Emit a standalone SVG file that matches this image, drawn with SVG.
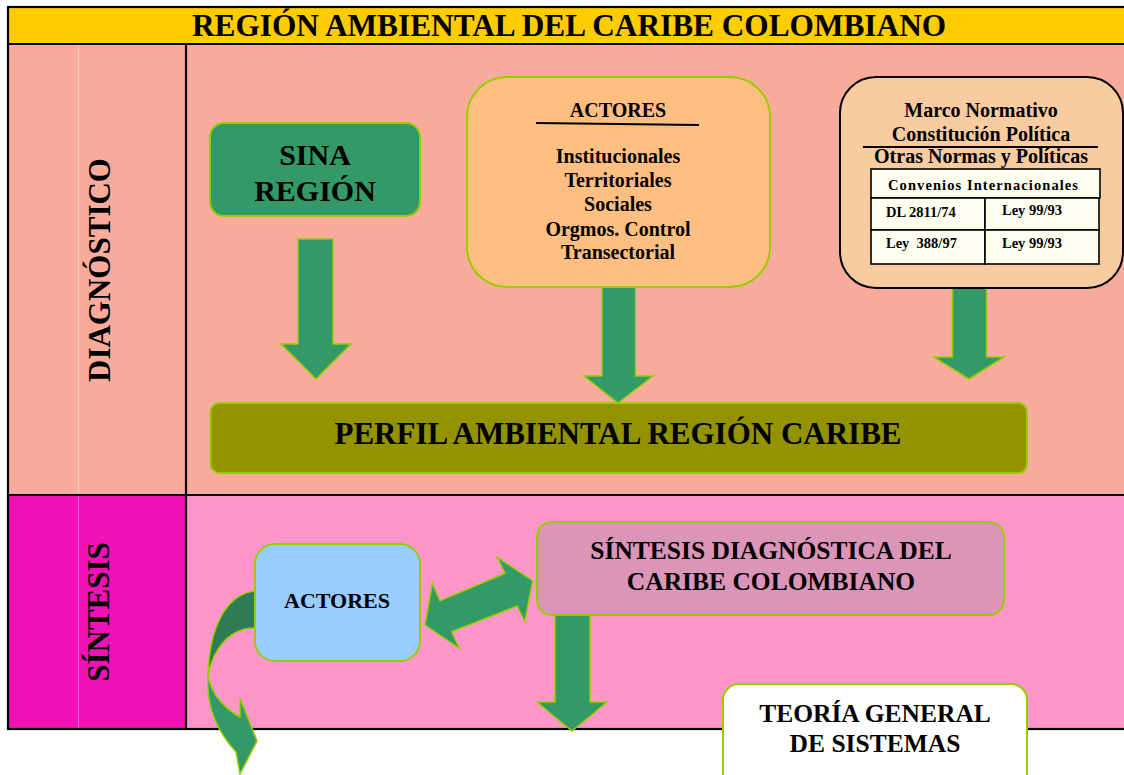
<svg xmlns="http://www.w3.org/2000/svg" width="1124" height="775" viewBox="0 0 1124 775">
<defs>
<style>
.t{font-family:"Liberation Serif","Times New Roman",serif;font-weight:bold;fill:#000;text-anchor:middle}
.tl{font-family:"Liberation Serif","Times New Roman",serif;font-weight:bold;fill:#000}
.arr{fill:#339966;stroke:#99CC00;stroke-width:1.5;stroke-linejoin:miter}
.box{stroke:#99CC00;stroke-width:2}
.frame{stroke:#000;stroke-width:2.2;fill:none}
.cell{fill:#FFFFF0;stroke:#000;stroke-width:1.6}
</style>
</defs>
<rect x="0" y="0" width="1124" height="775" fill="#fff"/>
<!-- backgrounds -->
<rect x="8" y="7" width="1122" height="37" fill="#FFCC00"/>
<rect x="8" y="44" width="1122" height="451" fill="#F9AC9C"/>
<rect x="8" y="495" width="178" height="234" fill="#F012B4"/>
<rect x="186" y="495" width="944" height="234" fill="#FF96C8"/>
<line x1="78.5" y1="45" x2="78.5" y2="728" stroke="#fff" stroke-opacity="0.35" stroke-width="1"/>
<!-- frame -->
<g id="frame">
<rect class="frame" x="8" y="7" width="1122" height="722"/>
<line class="frame" x1="8" y1="44" x2="1130" y2="44"/>
<line class="frame" x1="8" y1="495" x2="1130" y2="495"/>
<line class="frame" x1="186" y1="44" x2="186" y2="729"/>
</g>
<g id="title"><text class="t" x="569" y="36" font-size="31.3">REGIÓN AMBIENTAL DEL CARIBE COLOMBIANO</text></g>
<g id="lbl-diag"><text class="t" font-size="31" transform="translate(110,270) rotate(-90)">DIAGNÓSTICO</text></g>
<g id="lbl-sint"><text class="t" font-size="31" transform="translate(109,612) rotate(-90)">SÍNTESIS</text></g>

<!-- connectors -->
<g id="connectors">
<polygon class="arr" points="298,239 333,239 333,344 351,344 316,379 281,344 298,344"/>
<polygon class="arr" points="602,287 635.5,287 635.5,376 653,376 618,403 584,376 602,376"/>
<polygon class="arr" points="952.5,287 986.5,287 986.5,357 1004,357 969,379 933.5,357 952.5,357"/>
<polygon class="arr" points="555,615 590,615 590,702 607,702 572,731 537,702 555,702"/>
<polygon class="arr" points="425,625 432.3,583.3 440,600.7 505,573.3 497.3,557.3 532.7,580.7 524.7,621.7 517.3,606 451.7,631.7 459.3,648.3"/>
<path d="M255,591 C226,594 209,628 208,676 C213,648 230,628 255,628 Z" fill="#2E7D52" stroke="#99CC00" stroke-width="1.5"/>
<path class="arr" d="M208,676 C206,703 214,728 236,752 L240,774 L257,741 L240,698 L240,717 C224,708 212,694 208,676 Z"/>
</g>

<!-- nodes -->
<g id="sina">
<rect class="box" x="210" y="123" width="210" height="93" rx="14" fill="#339966"/>
<text class="t" x="315" y="165" font-size="30">SINA</text>
<text class="t" x="315" y="201" font-size="30">REGIÓN</text>
</g>
<g id="actores-top">
<rect class="box" x="467" y="77" width="303" height="210" rx="40" fill="#FFBF80"/>
<text class="t" x="618" y="117" font-size="20">ACTORES</text>
<line x1="536" y1="123" x2="699" y2="125" stroke="#000" stroke-width="2"/>
<text class="t" x="618" y="163" font-size="20">Institucionales</text>
<text class="t" x="618" y="187" font-size="20">Territoriales</text>
<text class="t" x="618" y="211" font-size="20">Sociales</text>
<text class="t" x="618" y="236" font-size="20">Orgmos. Control</text>
<text class="t" x="618" y="259" font-size="20">Transectorial</text>
</g>
<g id="marco">
<rect x="840" y="77" width="283" height="211" rx="36" fill="#F8CBA0" stroke="#000" stroke-width="2"/>
<text class="t" x="981" y="117" font-size="20">Marco Normativo</text>
<text class="t" x="981" y="141" font-size="20">Constitución Política</text>
<line x1="863" y1="147" x2="1098" y2="147" stroke="#000" stroke-width="2"/>
<text class="t" x="981" y="163" font-size="20">Otras Normas y Políticas</text>
<rect class="cell" x="871" y="169" width="229" height="29"/>
<rect class="cell" x="871" y="198" width="114" height="32"/>
<rect class="cell" x="985" y="198" width="114" height="32"/>
<rect class="cell" x="871" y="230" width="114" height="34"/>
<rect class="cell" x="985" y="230" width="114" height="34"/>
<text class="t" x="983" y="190" font-size="14.5" textLength="190" lengthAdjust="spacing">Convenios Internacionales</text>
<text class="tl" x="886" y="217" font-size="14.5">DL 2811/74</text>
<text class="tl" x="1002" y="215" font-size="14.5">Ley 99/93</text>
<text class="tl" x="886" y="248" font-size="14.5" xml:space="preserve">Ley  388/97</text>
<text class="tl" x="1002" y="248" font-size="14.5">Ley 99/93</text>
</g>
<g id="perfil">
<rect class="box" x="210.5" y="403" width="816.5" height="70" rx="9" fill="#939300"/>
<text class="t" x="618" y="444" font-size="31">PERFIL AMBIENTAL REGIÓN CARIBE</text>
</g>
<g id="actores-bottom">
<rect class="box" x="255" y="544" width="165" height="117" rx="20" fill="#99CCFF"/>
<text class="t" x="337" y="608" font-size="22">ACTORES</text>
</g>
<g id="sintesis">
<rect class="box" x="537" y="522" width="467" height="93" rx="15" fill="#DB95B8"/>
<text class="t" x="771" y="559" font-size="25.5">SÍNTESIS DIAGNÓSTICA DEL</text>
<text class="t" x="771" y="590" font-size="25.5">CARIBE COLOMBIANO</text>
</g>
<g id="teoria">
<rect class="box" x="723" y="684" width="304" height="110" rx="16" fill="#fff"/>
<text class="t" x="875" y="722" font-size="25.5">TEORÍA GENERAL</text>
<text class="t" x="875" y="752" font-size="25.5">DE SISTEMAS</text>
</g>
</svg>
